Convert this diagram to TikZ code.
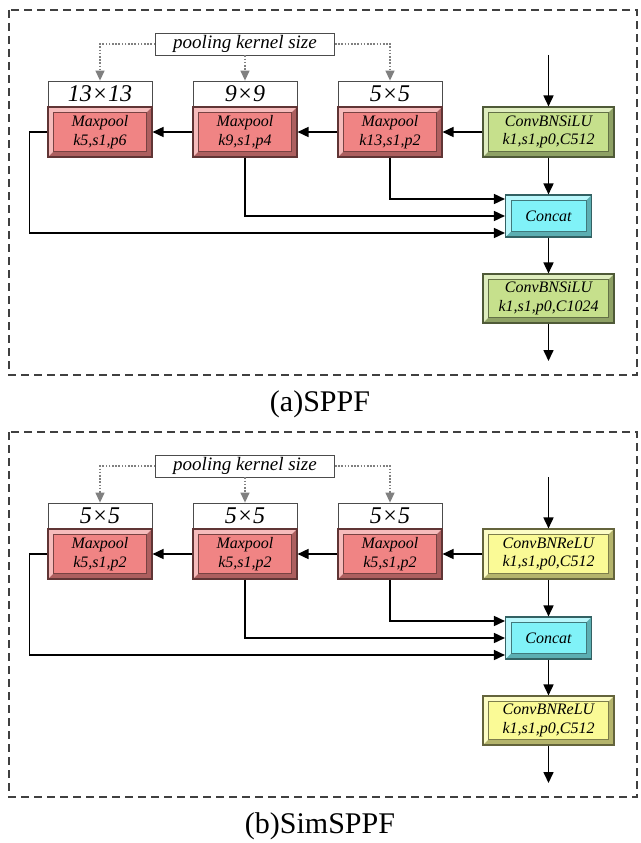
\documentclass[tikz,border=0pt]{standalone}
\usepackage{fontspec}
\setmainfont{Liberation Serif}
\usetikzlibrary{arrows.meta,calc}
\definecolor{mpred}{HTML}{F08484}
\definecolor{cgreen}{HTML}{C6E08C}
\definecolor{ccyan}{HTML}{80F2F8}
\definecolor{cyellow}{HTML}{FAFA96}
\definecolor{frameg}{HTML}{404040}
\tikzset{
  bev/.style={draw=#1!40!black, line width=1.1pt, fill=#1, inner sep=0pt, align=center,
    font=\itshape\fontsize{16}{18.5}\selectfont,
    path picture={
      \fill[white,opacity=.45] (path picture bounding box.north west) -- (path picture bounding box.north east)
        -- ([xshift=-5.5pt,yshift=-5.5pt]path picture bounding box.north east)
        -- ([xshift=5.5pt,yshift=-5.5pt]path picture bounding box.north west)
        -- ([xshift=5.5pt,yshift=5.5pt]path picture bounding box.south west)
        -- (path picture bounding box.south west) -- cycle;
      \fill[black,opacity=.28] (path picture bounding box.south east) -- (path picture bounding box.south west)
        -- ([xshift=5.5pt,yshift=5.5pt]path picture bounding box.south west)
        -- ([xshift=-5.5pt,yshift=5.5pt]path picture bounding box.south east)
        -- ([xshift=-5.5pt,yshift=-5.5pt]path picture bounding box.north east)
        -- (path picture bounding box.north east) -- cycle;
      \draw[#1!50!black, line width=.6pt] ([xshift=5.5pt,yshift=-5.5pt]path picture bounding box.north west)
        rectangle ([xshift=-5.5pt,yshift=5.5pt]path picture bounding box.south east);
    }},
  mpbox/.style={bev=mpred, minimum width=104pt, minimum height=50pt},
  convbox/.style={bev=#1, minimum width=131pt, minimum height=50pt},
  catbox/.style={bev=ccyan, minimum width=86pt, minimum height=42pt},
  labbox/.style={draw=gray!60!black, line width=.8pt, fill=white, inner sep=0pt,
    minimum width=104pt, minimum height=26pt, font=\itshape\fontsize{24}{24}\selectfont},
  poolbox/.style={draw=gray!60!black, line width=.8pt, fill=white, inner sep=0pt,
    minimum width=179pt, minimum height=22pt, font=\itshape\fontsize{19}{19}\selectfont},
  arr/.style={line width=1.6pt, -{Triangle[length=11pt,width=10pt]}},
  dotarr/.style={gray, line width=1.3pt, dash pattern=on 1.6pt off 1.6pt,
    -{Triangle[length=10pt,width=9pt]}},
  dashframe/.style={draw=frameg, line width=1.3pt, dash pattern=on 8pt off 5pt},
  captxt/.style={font=\fontsize{30}{30}\selectfont, inner sep=0pt}
}
\begin{document}
\begin{tikzpicture}[x=1pt,y=-1pt]
\useasboundingbox (0,0) rectangle (640,843);
\fill[white] (0,0) rectangle (640,843);

% ---------------- panel (a)
\draw[dashframe] (9,10) rectangle (637,375);
\node[poolbox] (ap) at (245,44) {pooling kernel size};
\node[labbox] (a1l) at (100,94) {13×13};
\node[labbox] (a2l) at (245,94) {9×9};
\node[labbox] (a3l) at (390,94) {5×5};
\node[mpbox] (a1) at (100,132) {Maxpool\\k5,s1,p6};
\node[mpbox] (a2) at (245,132) {Maxpool\\k9,s1,p4};
\node[mpbox] (a3) at (390,132) {Maxpool\\k13,s1,p2};
\node[convbox=cgreen] (a4) at (548.5,132) {ConvBNSiLU\\k1,s1,p0,C512};
\node[catbox] (a5) at (548.5,216) {Concat};
\node[convbox=cgreen, minimum height=49pt] (a6) at (548.5,298.5) {ConvBNSiLU\\k1,s1,p0,C1024};
\coordinate (ain) at (548.5,55);
\coordinate (aout) at (548.5,361);
\draw[dotarr] (ap.west) -| (a1l.north);
\draw[dotarr] (ap.south) -- (a2l.north);
\draw[dotarr] (ap.east) -| (a3l.north);
\draw[arr] (ain) -- (a4.north);
\draw[arr] (a4.west) -- (a3.east);
\draw[arr] (a3.west) -- (a2.east);
\draw[arr] (a2.west) -- (a1.east);
\draw[arr] (a4.south) -- (a5.north);
\draw[arr] (a3.south) |- ([yshift=17pt]a5.west);
\draw[arr] (a2.south) |- (a5.west);
\draw[arr] (a1.west) -- ++(-18,0) |- ([yshift=-17pt]a5.west);
\draw[arr] (a5.south) -- (a6.north);
\draw[arr] (a6.south) -- (aout);
\node[captxt] (acap) at (320,404) {(a)SPPF};

% ---------------- panel (b)
\begin{scope}[yshift=-422pt]
\draw[dashframe] (9,10) rectangle (637,375);
\node[poolbox] (bp) at (245,44) {pooling kernel size};
\node[labbox] (b1l) at (100,94) {5×5};
\node[labbox] (b2l) at (245,94) {5×5};
\node[labbox] (b3l) at (390,94) {5×5};
\node[mpbox] (b1) at (100,132) {Maxpool\\k5,s1,p2};
\node[mpbox] (b2) at (245,132) {Maxpool\\k5,s1,p2};
\node[mpbox] (b3) at (390,132) {Maxpool\\k5,s1,p2};
\node[convbox=cyellow] (b4) at (548.5,132) {ConvBNReLU\\k1,s1,p0,C512};
\node[catbox] (b5) at (548.5,216) {Concat};
\node[convbox=cyellow, minimum height=49pt] (b6) at (548.5,298.5) {ConvBNReLU\\k1,s1,p0,C512};
\coordinate (bin) at (548.5,55);
\coordinate (bout) at (548.5,361);
\draw[dotarr] (bp.west) -| (b1l.north);
\draw[dotarr] (bp.south) -- (b2l.north);
\draw[dotarr] (bp.east) -| (b3l.north);
\draw[arr] (bin) -- (b4.north);
\draw[arr] (b4.west) -- (b3.east);
\draw[arr] (b3.west) -- (b2.east);
\draw[arr] (b2.west) -- (b1.east);
\draw[arr] (b4.south) -- (b5.north);
\draw[arr] (b3.south) |- ([yshift=17pt]b5.west);
\draw[arr] (b2.south) |- (b5.west);
\draw[arr] (b1.west) -- ++(-18,0) |- ([yshift=-17pt]b5.west);
\draw[arr] (b5.south) -- (b6.north);
\draw[arr] (b6.south) -- (bout);
\node[captxt] (bcap) at (320,404) {(b)SimSPPF};
\end{scope}
\end{tikzpicture}
\end{document}
